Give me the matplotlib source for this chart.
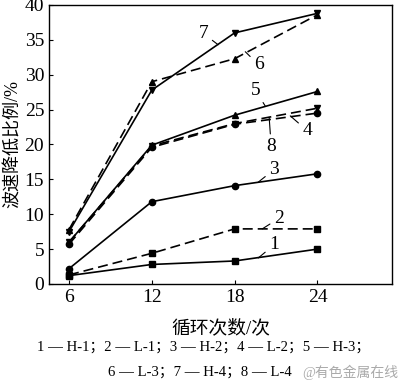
import matplotlib
matplotlib.use("Agg")
import matplotlib.pyplot as plt

plt.rcParams['font.family'] = ['Liberation Serif', 'Noto Sans CJK SC']
plt.rcParams['mathtext.fontset'] = 'stix'

cycles = [6, 12, 18, 24]
s1_H1 = [1.2, 2.8, 3.3, 5.0]
s2_L1 = [1.3, 4.4, 7.9, 7.9]
s3_H2 = [2.2, 11.8, 14.1, 15.8]
s4_L2 = [6.0, 19.8, 23.0, 25.2]
s5_H3 = [6.0, 19.9, 24.2, 27.6]
s6_L3 = [7.8, 29.0, 32.3, 38.6]
s7_H4 = [7.5, 27.8, 36.0, 38.8]
s8_L4 = [5.7, 19.6, 22.9, 24.5]

series = [
    (s1_H1, '-', 's', '1'),
    (s2_L1, '--', 's', '2'),
    (s3_H2, '-', 'o', '3'),
    (s4_L2, '--', 'v', '4'),
    (s5_H3, '-', '^', '5'),
    (s6_L3, '--', '^', '6'),
    (s7_H4, '-', 'v', '7'),
    (s8_L4, '--', 'o', '8'),
]

# label text positions and leader-line anchor points (data coords)
label_text = {'1': (20.85, 5.6), '2': (21.2, 9.4), '3': (20.85, 16.4),
              '4': (23.25, 22.0), '5': (19.5, 27.8), '8': (20.65, 19.7),
              '6': (19.75, 31.4), '7': (15.75, 35.9)}
label_point = {'1': (19.71, 3.73), '2': (20.0, 7.9), '3': (19.71, 14.6),
               '4': (22.03, 24.1), '5': (20.22, 25.5), '8': (20.5, 23.9),
               '6': (18.77, 33.3), '7': (16.8, 34.3)}

fig = plt.figure(figsize=(4.0, 3.83), dpi=100)
ax = fig.add_axes([0.1225, 0.2585, 0.8575, 0.7285])

for ys, ls, mk, name in series:
    ax.plot(cycles, ys, linestyle=ls, marker=mk, color='black', lw=1.2,
            ms=4.5, dashes=(6, 3) if ls == '--' else (None, None))

for name, (tx, ty) in label_text.items():
    px, py = label_point[name]
    ax.annotate(name, xy=(px, py), xytext=(tx, ty), fontsize=14,
                ha='center', va='center',
                arrowprops=dict(arrowstyle='-', color='black', lw=0.8,
                                shrinkA=1, shrinkB=0))

ax.set_xlim(4.55, 29.4)
ax.set_ylim(0, 40)
ax.set_xticks(cycles)
ax.set_yticks(range(0, 41, 5))
ax.tick_params(direction='in', length=3, labelsize=14, width=0.8)
for sp in ax.spines.values():
    sp.set_linewidth(1.0)

ax.set_ylabel('波速降低比例/%', fontsize=13, labelpad=2)
ax.set_xlabel('循环次数/次', fontsize=13.5, labelpad=10)

fig.text(0.508, 0.093, '1 — H-1；2 — L-1；3 — H-2；4 — L-2；5 — H-3；',
         ha='center', va='center', fontsize=10.6)
fig.text(0.5, 0.028, '6 — L-3；7 — H-4；8 — L-4',
         ha='center', va='center', fontsize=10.6)
fig.text(0.995, 0.028, '@有色金属在线', ha='right', va='center',
         fontsize=10, color='#aaaaaa')

fig.savefig('out.png', dpi=100)
